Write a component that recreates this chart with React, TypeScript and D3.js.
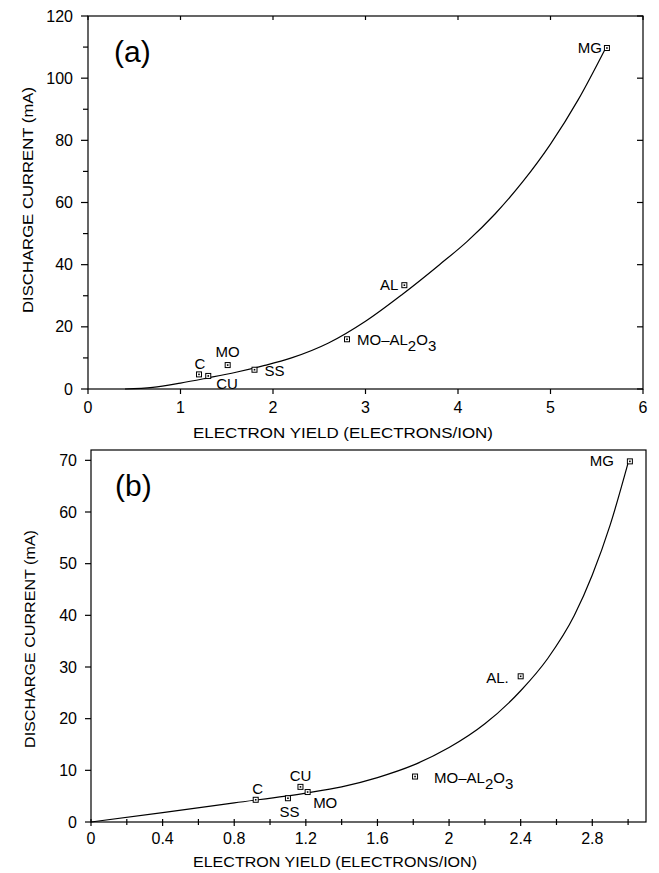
import React from "react";
import * as d3 from "d3";

// ---------- Panel (a) data ----------
const aLabels = ["C", "CU", "MO", "SS", "MO-AL2O3", "AL", "MG"];
const aYield = [1.2, 1.3, 1.51, 1.8, 2.8, 3.42, 5.61];
const aCurrent = [4.7, 4.2, 7.7, 6.2, 16.0, 33.4, 109.7];
const aCurveX = [0.4, 0.7, 1.0, 1.3, 1.6, 1.9, 2.2, 2.6, 3.0, 3.4, 3.8, 4.1, 4.4, 4.7, 5.0, 5.3, 5.6];
const aCurveY = [0, 0.5, 1.9, 3.6, 5.4, 7.5, 10.0, 14.8, 21.8, 30.5, 40.0, 47.5, 56.3, 66.7, 78.8, 93.1, 109.9];
const aXTicks = [0, 1, 2, 3, 4, 5, 6];
const aYTicks = [0, 20, 40, 60, 80, 100, 120];
const aYMinor = [10, 30, 50, 70, 90, 110];

// ---------- Panel (b) data ----------
const bLabels = ["C", "SS", "CU", "MO", "MO-AL2O3", "AL.", "MG"];
const bYield = [0.92, 1.1, 1.17, 1.21, 1.81, 2.4, 3.01];
const bCurrent = [4.3, 4.6, 6.8, 5.8, 8.8, 28.2, 69.8];
const bCurveX = [0, 0.4, 0.8, 1.2, 1.4, 1.6, 1.8, 2.0, 2.2, 2.4, 2.55, 2.7, 2.8, 2.9, 3.0];
const bCurveY = [0, 1.8, 3.7, 5.6, 6.8, 8.6, 11.0, 14.4, 19.0, 25.4, 31.6, 40.0, 47.8, 57.5, 69.5];
const bXTicks = [0, 0.4, 0.8, 1.2, 1.6, 2, 2.4, 2.8];
const bXMinor = [0.2, 0.6, 1.0, 1.4, 1.8, 2.2, 2.6, 3.0];
const bYTicks = [0, 10, 20, 30, 40, 50, 60, 70];

const xTitle = "ELECTRON YIELD (ELECTRONS/ION)";
const yTitle = "DISCHARGE CURRENT (mA)";

// label placement (pixel offsets from marker), [dx, dy, anchor]
const aLabelPos: [number, number, string][] = [
  [1, -5, "middle"],
  [8, 13, "start"],
  [0, -8, "middle"],
  [10, 6, "start"],
  [10, 6, "start"],
  [-6, 5, "end"],
  [-5, 5, "end"],
];
const bLabelPos: [number, number, string][] = [
  [2, -6, "middle"],
  [1.5, 18.5, "middle"],
  [0, -6, "middle"],
  [5.5, 16, "start"],
  [19, 6, "start"],
  [-12, 6.5, "end"],
  [-16, 5, "end"],
];

const FONT = "'Liberation Sans', Arial, Helvetica, sans-serif";

function Label({ text, x, y, anchor }: { text: string; x: number; y: number; anchor: string }) {
  if (text === "MO-AL2O3") {
    return (
      <text x={x} y={y} textAnchor={anchor as any} fontSize={15} fontFamily={FONT}>
        <tspan>MO–AL</tspan>
        <tspan dy={6}>2</tspan>
        <tspan dy={-6}>O</tspan>
        <tspan dy={6}>3</tspan>
      </text>
    );
  }
  return (
    <text x={x} y={y} textAnchor={anchor as any} fontSize={15} fontFamily={FONT}>
      {text}
    </text>
  );
}

function Marker({ x, y }: { x: number; y: number }) {
  return (
    <g>
      <rect x={x - 2.5} y={y - 2.5} width={5} height={5} fill="white" stroke="black" strokeWidth={1} />
      <rect x={x - 0.8} y={y - 0.8} width={1.6} height={1.6} fill="black" />
    </g>
  );
}

export default function App() {
  // Panel (a) scales
  const ax = d3.scaleLinear().domain([0, 6]).range([88, 643]);
  const ay = d3.scaleLinear().domain([0, 120]).range([389, 16]);
  // Panel (b) scales
  const bx = d3.scaleLinear().domain([0, 3.1]).range([91, 646]);
  const by = d3.scaleLinear().domain([0, 72]).range([822, 450]);

  const aLine = d3
    .line<number>()
    .x((d, i) => ax(aCurveX[i]))
    .y((d) => ay(d))
    .curve(d3.curveMonotoneX);
  const bLine = d3
    .line<number>()
    .x((d, i) => bx(bCurveX[i]))
    .y((d) => by(d))
    .curve(d3.curveMonotoneX);

  const sw = 1.2;

  return (
    <svg
      width={659}
      height={873}
      style={{ position: "absolute", left: 0, top: 0, background: "white" }}
      fontFamily={FONT}
    >
      <rect width={659} height={873} fill="white" />
      {/* ================= Panel (a) ================= */}
      <g stroke="black" strokeWidth={sw} fill="none">
        <rect x={ax(0)} y={ay(120)} width={ax(6) - ax(0)} height={ay(0) - ay(120)} />
        {aXTicks.map((t) => (
          <line key={"axb" + t} x1={ax(t)} x2={ax(t)} y1={ay(0)} y2={ay(0) + 5} />
        ))}
        {aXTicks.map((t) => (
          <line key={"axt" + t} x1={ax(t)} x2={ax(t)} y1={ay(120)} y2={ay(120) + 4} />
        ))}
        {aYTicks.map((t) => (
          <line key={"ayl" + t} x1={ax(0) - 7} x2={ax(0)} y1={ay(t)} y2={ay(t)} />
        ))}
        {aYMinor.map((t) => (
          <line key={"aym" + t} x1={ax(0) - 5} x2={ax(0)} y1={ay(t)} y2={ay(t)} />
        ))}
        {aYTicks.map((t) => (
          <line key={"ayr" + t} x1={ax(6) - 6} x2={ax(6)} y1={ay(t)} y2={ay(t)} />
        ))}
        <path d={aLine(aCurveY) || ""} strokeWidth={1.2} />
      </g>
      {aXTicks.map((t) => (
        <text key={"axl" + t} x={ax(t)} y={413} textAnchor="middle" fontSize={16}>
          {t}
        </text>
      ))}
      {aYTicks.map((t) => (
        <text key={"ayl2" + t} x={73} y={ay(t) + 5.5} textAnchor="end" fontSize={16}>
          {t}
        </text>
      ))}
      <text x={343} y={438} textAnchor="middle" fontSize={15} textLength={300} lengthAdjust="spacingAndGlyphs">
        {xTitle}
      </text>
      <text
        transform={`translate(33,200) rotate(-90)`}
        textAnchor="middle"
        fontSize={15}
        textLength={226}
        lengthAdjust="spacingAndGlyphs"
      >
        {yTitle}
      </text>
      <text x={114} y={62} fontSize={30} fontWeight={300}>
        (a)
      </text>
      {aLabels.map((l, i) => (
        <Marker key={"am" + i} x={ax(aYield[i])} y={ay(aCurrent[i])} />
      ))}
      {aLabels.map((l, i) => (
        <Label
          key={"alab" + i}
          text={l}
          x={ax(aYield[i]) + aLabelPos[i][0]}
          y={ay(aCurrent[i]) + aLabelPos[i][1]}
          anchor={aLabelPos[i][2]}
        />
      ))}

      {/* ================= Panel (b) ================= */}
      <g stroke="black" strokeWidth={sw} fill="none">
        <rect x={bx(0)} y={by(72)} width={bx(3.1) - bx(0)} height={by(0) - by(72)} />
        {bXTicks.map((t) => (
          <line key={"bxb" + t} x1={bx(t)} x2={bx(t)} y1={by(0) - 3} y2={by(0) + 4} />
        ))}
        {bXMinor.map((t) => (
          <line key={"bxm" + t} x1={bx(t)} x2={bx(t)} y1={by(0) - 3} y2={by(0) + 3} />
        ))}
        {bYTicks.map((t) => (
          <line key={"byl" + t} x1={bx(0) - 6} x2={bx(0)} y1={by(t)} y2={by(t)} />
        ))}
        <path d={bLine(bCurveY) || ""} strokeWidth={1.2} />
      </g>
      {bXTicks.map((t) => (
        <text key={"bxl" + t} x={bx(t)} y={844} textAnchor="middle" fontSize={16}>
          {t}
        </text>
      ))}
      {bYTicks.map((t) => (
        <text key={"byl2" + t} x={77} y={by(t) + 5.5} textAnchor="end" fontSize={16}>
          {t}
        </text>
      ))}
      <text x={335} y={867} textAnchor="middle" fontSize={15} textLength={284} lengthAdjust="spacingAndGlyphs">
        {xTitle}
      </text>
      <text
        transform={`translate(35,639) rotate(-90)`}
        textAnchor="middle"
        fontSize={15}
        textLength={218}
        lengthAdjust="spacingAndGlyphs"
      >
        {yTitle}
      </text>
      <text x={115} y={496} fontSize={30} fontWeight={300}>
        (b)
      </text>
      {bLabels.map((l, i) => (
        <Marker key={"bm" + i} x={bx(bYield[i])} y={by(bCurrent[i])} />
      ))}
      {bLabels.map((l, i) => (
        <Label
          key={"blab" + i}
          text={l}
          x={bx(bYield[i]) + bLabelPos[i][0]}
          y={by(bCurrent[i]) + bLabelPos[i][1]}
          anchor={bLabelPos[i][2]}
        />
      ))}
    </svg>
  );
}
